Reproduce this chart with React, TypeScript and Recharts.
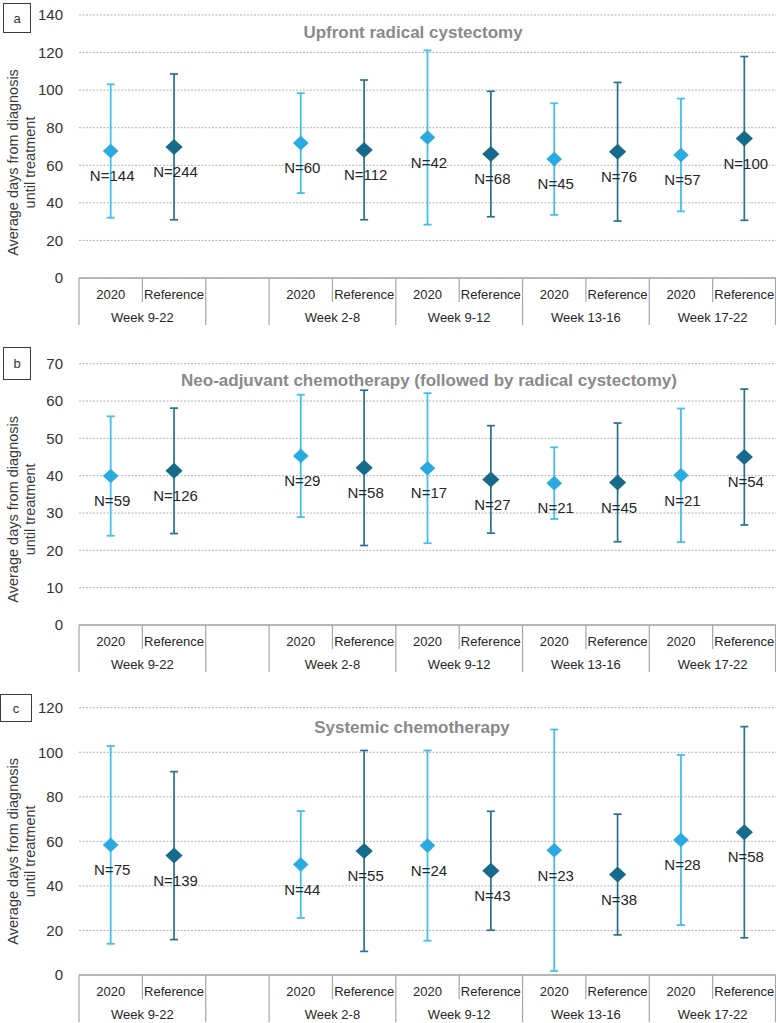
import { ScatterChart, Scatter, XAxis, YAxis, CartesianGrid, ErrorBar } from 'recharts'

// x axis slots: first the whole period, an empty gap, then the weekly periods
const slotGroups = [
    'Week 9-22', 'Week 9-22', '',
    'Week 2-8', 'Week 2-8',
    'Week 9-12', 'Week 9-12',
    'Week 13-16', 'Week 13-16',
    'Week 17-22', 'Week 17-22',
]
const slotLabels = ['2020', 'Reference', '', '2020', 'Reference', '2020', 'Reference', '2020', 'Reference', '2020', 'Reference']
const periods = ['Week 9-22', 'Week 2-8', 'Week 9-12', 'Week 13-16', 'Week 17-22']

// a: upfront radical cystectomy
const ticksA = [0, 20, 40, 60, 80, 100, 120, 140]
const meanA2020 = [67.6, 71.8, 74.8, 63.3, 65.5]
const sdA2020 = [35.5, 26.6, 46.4, 29.7, 30.0]
const nA2020 = [144, 60, 42, 45, 57]
const meanARef = [69.8, 68.2, 66.0, 67.2, 74.3]
const sdARef = [38.8, 37.2, 33.4, 36.9, 43.6]
const nARef = [244, 112, 68, 76, 100]

// b: neo-adjuvant chemotherapy
const ticksB = [0, 10, 20, 30, 40, 50, 60, 70]
const meanB2020 = [39.9, 45.3, 42.0, 38.0, 40.1]
const sdB2020 = [16.0, 16.4, 20.1, 9.6, 17.9]
const nB2020 = [59, 29, 17, 21, 21]
const meanBRef = [41.3, 42.1, 39.0, 38.2, 45.0]
const sdBRef = [16.8, 20.8, 14.4, 15.9, 18.2]
const nBRef = [126, 58, 27, 45, 54]

// c: systemic chemotherapy
const ticksC = [0, 20, 40, 60, 80, 100, 120]
const meanC2020 = [58.4, 49.6, 58.1, 56.0, 60.6]
const sdC2020 = [44.4, 24.0, 42.7, 54.2, 38.2]
const nC2020 = [75, 44, 24, 23, 28]
const meanCRef = [53.6, 55.7, 46.8, 45.1, 64.1]
const sdCRef = [37.7, 45.1, 26.7, 27.1, 47.4]
const nCRef = [139, 55, 43, 38, 58]

const FONT = '"Liberation Sans", Arial, sans-serif'
const LIGHT = '#29abe2'
const LIGHT_BAR = '#45bfec'
const DARK = '#166b8b'
const DARK_BAR = '#27728f'
const LINE = '#a6a6a6'

const slotTicks = slotLabels.map((_, i) => i + 0.5)

function slotOf(period: string, series: string) {
    return slotLabels.findIndex((l, i) => l === series && slotGroups[i] === period)
}

function toPoints(series: string, mean: number[], sd: number[], n: number[]) {
    return periods.map((p, i) => ({ x: slotOf(p, series) + 0.5, y: mean[i], sd: sd[i], n: n[i] }))
}

function SlotTick(props: any) {
    const { x, y, payload, width } = props
    const count = slotLabels.length
    const slotW = (typeof width === 'number' ? width : 697) / count
    const i = Math.floor(payload.value)
    const left = x - slotW / 2
    const groupStart = i === 0 || slotGroups[i] !== slotGroups[i - 1]
    let span = 1
    while (i + span < count && slotGroups[i + span] === slotGroups[i]) span++
    return (
        <g>
            <line x1={left} x2={left} y1={y} y2={y + (groupStart ? 47 : 24)} stroke={LINE} strokeWidth={1.2} />
            {i === count - 1 && (
                <line x1={left + slotW - 0.5} x2={left + slotW - 0.5} y1={y} y2={y + 47} stroke={LINE} strokeWidth={1.2} />
            )}
            <text x={x} y={y + 16} dy="0.35em" textAnchor="middle" fontSize={13} fill="#262626" fontFamily={FONT}>
                {slotLabels[i]}
            </text>
            {groupStart && slotGroups[i] && (
                <text x={left + (span * slotW) / 2} y={y + 39.5} dy="0.35em" textAnchor="middle" fontSize={13} fill="#262626" fontFamily={FONT}>
                    {slotGroups[i]}
                </text>
            )}
        </g>
    )
}

const marker = (rx: number, ry: number, fill: string) => (props: any) => {
    const { cx, cy, payload } = props
    return (
        <g>
            <path d={`M${cx},${cy - ry}L${cx + rx},${cy}L${cx},${cy + ry}L${cx - rx},${cy}Z`} fill={fill} />
            <text x={cx + 1.5} y={cy + 25} dy="0.35em" textAnchor="middle" fontSize={15} fill="#262626" fontFamily={FONT}>
                N={payload.n}
            </text>
        </g>
    )
}

const panels = [
    {
        letter: 'a', title: 'Upfront radical cystectomy', ticks: ticksA,
        s2020: toPoints('2020', meanA2020, sdA2020, nA2020), sRef: toPoints('Reference', meanARef, sdARef, nARef),
        top: 0, marginTop: 15, plotH: 263, axisH: 50, titleX: 413, titleY: 33, labelShift: 16,
        box: { left: 3, top: 3, width: 28, height: 30 },
    },
    {
        letter: 'b', title: 'Neo-adjuvant chemotherapy (followed by radical cystectomy)', ticks: ticksB,
        s2020: toPoints('2020', meanB2020, sdB2020, nB2020), sRef: toPoints('Reference', meanBRef, sdBRef, nBRef),
        top: 348, marginTop: 15.7, plotH: 261.3, axisH: 50, titleX: 429, titleY: 381, labelShift: 15,
        box: { left: 3, top: 347, width: 28, height: 33 },
    },
    {
        letter: 'c', title: 'Systemic chemotherapy', ticks: ticksC,
        s2020: toPoints('2020', meanC2020, sdC2020, nC2020), sRef: toPoints('Reference', meanCRef, sdCRef, nCRef),
        top: 692, marginTop: 15.7, plotH: 267.3, axisH: 48, titleX: 412, titleY: 728, labelShift: 10,
        box: { left: 0, top: 694, width: 32, height: 28 },
    },
]

function Panel({ p }: { p: (typeof panels)[number] }) {
    const height = p.marginTop + p.plotH + p.axisH
    return (
        <div style={{ position: 'absolute', left: 0, top: p.top, width: 776, height }}>
            <ScatterChart width={776} height={height} margin={{ top: p.marginTop, right: 0, bottom: 0, left: 0 }}>
                <CartesianGrid vertical={false} stroke="#b3b3b3" strokeDasharray="2 1.5" />
                <XAxis
                    type="number"
                    dataKey="x"
                    domain={[0, slotLabels.length]}
                    ticks={slotTicks}
                    interval={0}
                    height={p.axisH}
                    tickLine={false}
                    tickSize={0}
                    tickMargin={0}
                    axisLine={{ stroke: LINE, strokeWidth: 1.3 }}
                    tick={(props: any) => <SlotTick {...props} />}
                />
                <YAxis
                    type="number"
                    dataKey="y"
                    domain={[0, p.ticks[p.ticks.length - 1]]}
                    ticks={p.ticks}
                    interval={0}
                    width={79}
                    tickLine={false}
                    axisLine={false}
                    tickSize={6}
                    tickMargin={10}
                    tick={{ fill: '#333', fontSize: 15, fontFamily: FONT }}
                    label={{
                        content: (lp: any) => {
                            const vb = lp.viewBox
                            const cy = vb.y + vb.height / 2 + p.labelShift
                            return (
                                <g fill="#3a3a3a" fontSize={14.5} fontFamily={FONT} textAnchor="middle">
                                    <text transform={`translate(13, ${cy}) rotate(-90)`} dy="0.35em">
                                        Average days from diagnosis
                                    </text>
                                    <text transform={`translate(30, ${cy}) rotate(-90)`} dy="0.35em">
                                        until treatment
                                    </text>
                                </g>
                            )
                        },
                    }}
                />
                <Scatter data={p.s2020} shape={marker(7.8, 7.3, LIGHT)} isAnimationActive={false}>
                    <ErrorBar dataKey="sd" direction="y" width={4} stroke={LIGHT_BAR} strokeWidth={1.8} />
                </Scatter>
                <Scatter data={p.sRef} shape={marker(8.6, 8, DARK)} isAnimationActive={false}>
                    <ErrorBar dataKey="sd" direction="y" width={4} stroke={DARK_BAR} strokeWidth={1.7} />
                </Scatter>
            </ScatterChart>
            <div
                style={{
                    position: 'absolute', left: p.titleX, top: p.titleY - p.top, transform: 'translate(-50%, -50%)',
                    whiteSpace: 'nowrap', fontFamily: FONT, fontWeight: 'bold', fontSize: 17, color: '#8a8a8a',
                }}
            >
                {p.title}
            </div>
            <div
                style={{
                    position: 'absolute', left: p.box.left, top: p.box.top - p.top, width: p.box.width, height: p.box.height,
                    boxSizing: 'border-box', border: '1.3px solid #3a3a3a', display: 'flex', alignItems: 'center',
                    justifyContent: 'center', fontFamily: FONT, fontSize: 13, color: '#333', background: '#fff',
                }}
            >
                {p.letter}
            </div>
        </div>
    )
}

export default function App() {
    return (
        <div style={{ position: 'absolute', left: 0, top: 0, width: 776, height: 1023, background: '#fff', overflow: 'hidden' }}>
            {panels.map((p) => (
                <Panel key={p.letter} p={p} />
            ))}
        </div>
    )
}
